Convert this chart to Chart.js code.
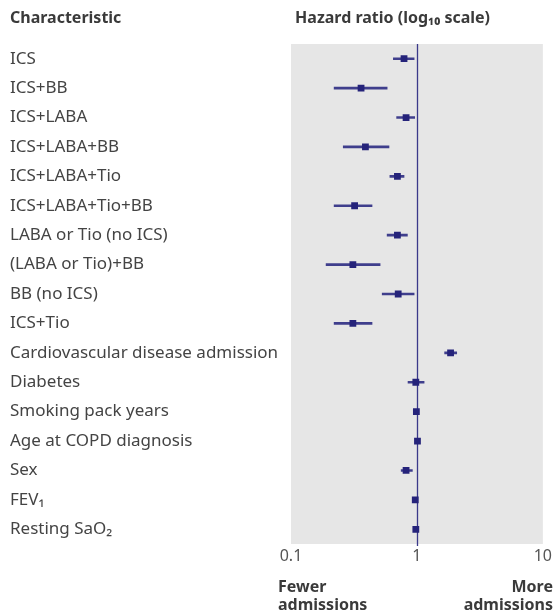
<!DOCTYPE html>
<html>
<head>
<meta charset="utf-8">
<script src="https://cdn.jsdelivr.net/npm/chart.js@4"></script>
<style>
html,body{margin:0;padding:0;background:#fff;}
#wrap{width:555px;height:616px;position:relative;}
</style>
</head>
<body>
<div id="wrap"><canvas id="c" width="555" height="616"></canvas></div>
<script>
const categories = [
  "ICS", "ICS+BB", "ICS+LABA", "ICS+LABA+BB", "ICS+LABA+Tio", "ICS+LABA+Tio+BB",
  "LABA or Tio (no ICS)", "(LABA or Tio)+BB", "BB (no ICS)", "ICS+Tio",
  "Cardiovascular disease admission", "Diabetes", "Smoking pack years",
  "Age at COPD diagnosis", "Sex", "FEV\u2081", "Resting SaO\u2082"
];
const hazardRatio = [0.79, 0.36, 0.82, 0.39, 0.70, 0.32, 0.70, 0.31, 0.71, 0.31, 1.85, 0.98, 0.99, 1.01, 0.82, 0.97, 0.98];
const ciLower     = [0.65, 0.22, 0.69, 0.26, 0.61, 0.22, 0.58, 0.19, 0.53, 0.22, 1.66, 0.85, 0.98, 1.00, 0.75, 0.96, 0.97];
const ciUpper     = [0.95, 0.58, 0.96, 0.60, 0.79, 0.44, 0.84, 0.51, 0.95, 0.44, 2.07, 1.14, 1.00, 1.02, 0.92, 0.98, 0.99];
const xTickLabels = [0.1, 1, 10];
const headerLeft = "Characteristic";
const headerRight = "Hazard ratio (log\u2081\u2080 scale)";
const footLeft = ["Fewer", "admissions"];
const footRight = ["More", "admissions"];

const NAVY = "#25237a";
const FONT = "'Noto Sans', 'DejaVu Sans', sans-serif";

const decor = {
  id: "decor",
  beforeDraw(chart) {
    const {ctx, chartArea: a} = chart;
    ctx.save();
    ctx.fillStyle = "#e6e6e6";
    ctx.fillRect(a.left, a.top, a.right - a.left, a.bottom - a.top);
    ctx.restore();
  },
  beforeDatasetsDraw(chart) {
    const {ctx, chartArea: a} = chart;
    const x = Math.round(chart.scales.x.getPixelForValue(1)) + 0.5;
    ctx.save();
    ctx.strokeStyle = "#3a398a";
    ctx.lineWidth = 1.3;
    ctx.beginPath();
    ctx.moveTo(x, a.top);
    ctx.lineTo(x, a.bottom + 2);
    ctx.stroke();
    ctx.restore();
  },
  afterDraw(chart) {
    const {ctx} = chart;
    ctx.save();
    ctx.fillStyle = "#3a3a3a";
    ctx.font = "bold 16px " + FONT;
    ctx.textBaseline = "middle";
    ctx.textAlign = "left";
    ctx.fillText(headerLeft, 10, 18);
    ctx.textAlign = "right";
    ctx.fillText(headerRight, 490, 18);
    ctx.textAlign = "left";
    ctx.fillText(footLeft[0], 278, 587);
    ctx.fillText(footLeft[1], 278, 605);
    ctx.textAlign = "right";
    ctx.fillText(footRight[0], 553, 587);
    ctx.fillText(footRight[1], 553, 605);
    ctx.restore();
  }
};

new Chart(document.getElementById("c"), {
  type: "bar",
  data: {
    labels: categories,
    datasets: [
      {
        type: "scatter",
        label: "Hazard ratio",
        data: categories.map((c, i) => ({x: hazardRatio[i], y: c})),
        pointStyle: "rect",
        pointRadius: 4.8,
        backgroundColor: NAVY,
        borderColor: NAVY,
        borderWidth: 0,
        order: 0
      },
      {
        label: "95% CI",
        data: categories.map((c, i) => [ciLower[i], ciUpper[i]]),
        backgroundColor: "#3f3e8c",
        borderWidth: 0,
        barThickness: 2,
        order: 1
      }
    ]
  },
  options: {
    indexAxis: "y",
    responsive: false,
    animation: false,
    layout: {padding: {left: 10, top: 44, right: 10, bottom: 0}},
    plugins: {legend: {display: false}, tooltip: {enabled: false}},
    scales: {
      x: {
        type: "logarithmic",
        min: 0.1,
        max: 10,
        grid: {display: false, drawTicks: false},
        border: {display: false},
        afterBuildTicks(scale) {
          scale.ticks = xTickLabels.map(v => ({value: v}));
        },
        afterFit(scale) { scale.height = 72; },
        ticks: {
          autoSkip: false,
          maxRotation: 0,
          padding: 3,
          color: "#555",
          font: {family: FONT, size: 16},
          callback: (v) => String(v)
        }
      },
      y: {
        type: "category",
        offset: true,
        grid: {display: false, drawTicks: false},
        border: {display: false},
        afterFit(scale) { scale.width = 281; },
        ticks: {
          crossAlign: "far",
          autoSkip: false,
          padding: 0,
          color: "#444",
          font: {family: FONT, size: 17}
        }
      }
    }
  },
  plugins: [decor]
});
</script>
</body>
</html>
